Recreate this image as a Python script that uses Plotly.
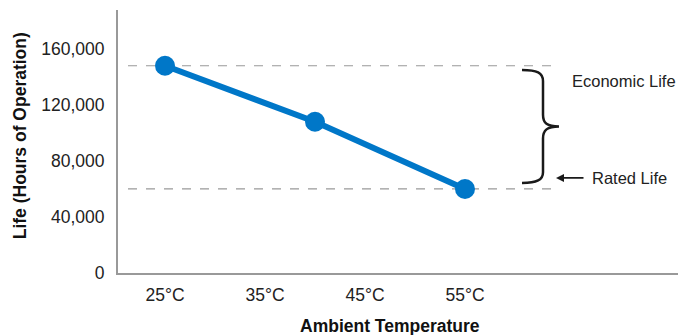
import plotly.graph_objects as go

# ambient temperature (deg C) vs. life in hours of operation
temps = [25, 40, 55]
life_hours = [148000, 108000, 60000]

x_tick_vals = [25, 35, 45, 55]
x_tick_text = ["25°C", "35°C", "45°C", "55°C"]
y_tick_vals = [0, 40000, 80000, 120000, 160000]

economic_life = life_hours[0]
rated_life = life_hours[-1]

BLUE = "#0077c8"
GREY = "#999999"
FONT = "Liberation Sans, Arial, sans-serif"
FS = 17.5

fig = go.Figure()
fig.add_trace(go.Scatter(
    x=temps, y=life_hours, mode="lines+markers",
    line=dict(color=BLUE, width=6),
    marker=dict(color=BLUE, size=20),
    showlegend=False, hoverinfo="skip",
))

# dashed reference lines for economic / rated life
for val in (economic_life, rated_life):
    fig.add_shape(type="line", xref="x", yref="y", x0=21.3, x1=64.4, y0=val, y1=val,
                  line=dict(color=GREY, width=1.2, dash="dash"), layer="below")

# curly brace between the two lines
brace = ("M 60.7,145000 C 62.2,145000 62.8,143000 62.8,137000 "
         "L 62.8,113000 C 62.8,107000 63.2,104600 64.4,104600 "
         "C 63.2,104600 62.8,102000 62.8,96000 "
         "L 62.8,72000 C 62.8,66500 62.2,64300 60.7,64300")
fig.add_shape(type="path", xref="x", yref="y", path=brace, line=dict(color="#1a1a1a", width=2.5))

fig.add_annotation(x=65.5, y=137100, xref="x", yref="y", text="Economic Life", showarrow=False,
                   xanchor="left", yanchor="middle", font=dict(size=16.5, color="#222"))
fig.add_annotation(x=64.1, y=67900, ax=67.0, ay=67900, xref="x", yref="y", axref="x", ayref="y",
                   text="", showarrow=True, arrowhead=2, arrowsize=1, arrowwidth=1.6,
                   arrowcolor="#1a1a1a")
fig.add_annotation(x=67.5, y=67900, xref="x", yref="y", text="Rated Life", showarrow=False,
                   xanchor="left", yanchor="middle", font=dict(size=16.5, color="#222"))

# axis titles
fig.add_annotation(x=-0.1725, y=0.52, xref="paper", yref="paper", text="<b>Life (Hours of Operation)</b>",
                   textangle=-90, showarrow=False, xanchor="center", yanchor="middle",
                   font=dict(size=FS, color="#111"))
fig.add_annotation(x=0.479, y=-0.20, xref="paper", yref="paper", text="<b>Ambient Temperature</b>",
                   showarrow=False, xanchor="center", yanchor="middle",
                   font=dict(size=FS, color="#111"))

fig.update_xaxes(range=[20.3, 77.1], tickvals=x_tick_vals, ticktext=x_tick_text,
                 showgrid=False, zeroline=False, showline=True, linecolor=GREY, linewidth=2,
                 ticks="", ticklabelstandoff=5, tickfont=dict(size=FS, color="#222"))
fig.update_yaxes(range=[0, 187800], tickvals=y_tick_vals, tickformat=",d",
                 showgrid=False, zeroline=False, showline=True, linecolor=GREY, linewidth=2,
                 ticks="", ticklabelstandoff=8, tickfont=dict(size=FS, color="#222"))
# page body keeps its default 8px margin, so the figure is drawn 8px smaller
fig.update_layout(
    width=678, height=327,
    margin=dict(l=110, r=0, t=2, b=62),
    paper_bgcolor="white", plot_bgcolor="white",
    font=dict(family=FONT),
)
fig.write_html("out.html")
